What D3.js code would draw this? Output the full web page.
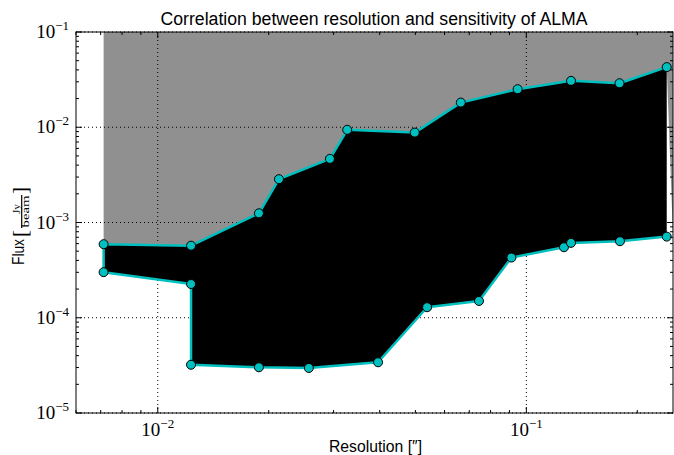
<!DOCTYPE html>
<html><head><meta charset="utf-8">
<script src="https://cdn.jsdelivr.net/npm/d3@7"></script>
<style>body{margin:0;background:#fff}svg{display:block}</style>
</head><body>
<svg id="c" width="674" height="455"></svg>
<script>
// Data
const upperX = [0.00713, 0.01231, 0.01881, 0.02132, 0.02931, 0.03266, 0.0498, 0.0664, 0.0947, 0.1322, 0.179, 0.2404];
const upperY = [5.92e-4, 5.71e-4, 1.25e-3, 2.85e-3, 4.66e-3, 9.4e-3, 8.79e-3, 0.01815, 0.0251, 0.0307, 0.0290, 0.0428];
const lowerX = [0.00713, 0.01231, 0.01231, 0.01881, 0.0257, 0.0396, 0.0538, 0.0744, 0.0911, 0.1265, 0.1322, 0.1795, 0.2404];
const lowerY = [3.01e-4, 2.26e-4, 3.21e-5, 3.02e-5, 2.97e-5, 3.41e-5, 1.29e-4, 1.50e-4, 4.28e-4, 5.50e-4, 6.11e-4, 6.36e-4, 7.11e-4];
const xDomain = [0.006, 0.25];
const yDomain = [1e-5, 1e-1];
const xTickExps = [-2, -1];
const yTickExps = [-5, -4, -3, -2, -1];

const m = {l: 76, r: 674 - 673, t: 32, b: 455 - 413};
const W = 674, H = 455;
const svg = d3.select('#c');
const x = d3.scaleLog().domain(xDomain).range([m.l, W - m.r]);
const y = d3.scaleLog().domain(yDomain).range([H - m.b, m.t]);

const upper = upperX.map((v, i) => [v, upperY[i]]);
const lower = lowerX.map((v, i) => [v, lowerY[i]]);
const line = d3.line().x(d => x(d[0])).y(d => y(d[1]));

// gray region above
const grayPts = [[upperX[0], yDomain[1]], [xDomain[1], yDomain[1]], [xDomain[1], lowerY[lowerY.length - 1]]]
  .concat(upper.slice().reverse());
svg.append('path').attr('d', line(grayPts) + 'Z').attr('fill', '#909090');

// black polygon
const blackPts = upper.concat(lower.slice().reverse());
svg.append('path').attr('d', line(blackPts) + 'Z').attr('fill', '#000');

// grid
const g = svg.append('g');
xTickExps.forEach(e => {
  g.append('line').attr('x1', x(10 ** e)).attr('x2', x(10 ** e)).attr('y1', y.range()[0]).attr('y2', y.range()[1])
    .attr('stroke', '#000').attr('stroke-width', 1).attr('stroke-dasharray', '1,3');
});
yTickExps.forEach(e => {
  g.append('line').attr('y1', y(10 ** e)).attr('y2', y(10 ** e)).attr('x1', x.range()[0]).attr('x2', x.range()[1])
    .attr('stroke', '#000').attr('stroke-width', 1).attr('stroke-dasharray', '1,3');
});

// cyan outline
const outline = upper.slice().reverse().concat(lower);
svg.append('path').attr('d', line(outline)).attr('fill', 'none').attr('stroke', '#00bfbf')
  .attr('stroke-width', 2.5).attr('stroke-linejoin', 'round');
svg.selectAll('circle.m').data(upper.concat(lower)).enter().append('circle')
  .attr('cx', d => x(d[0])).attr('cy', d => y(d[1])).attr('r', 4.5)
  .attr('fill', '#00bfbf').attr('stroke', '#000').attr('stroke-width', 1);

// frame
svg.append('rect').attr('x', m.l).attr('y', m.t).attr('width', W - m.r - m.l).attr('height', H - m.b - m.t)
  .attr('fill', 'none').attr('stroke', '#000').attr('stroke-width', 1);

// ticks (inside, all sides)
const tk = svg.append('g').attr('stroke', '#000').attr('stroke-width', 1);
const xt = x.ticks(); const yt = y.ticks();
function isMajor(v) { return Math.abs(Math.log10(v) - Math.round(Math.log10(v))) < 1e-9; }
xt.forEach(v => {
  const L = isMajor(v) ? 6 : 3; const px = x(v);
  tk.append('line').attr('x1', px).attr('x2', px).attr('y1', H - m.b).attr('y2', H - m.b - L);
  tk.append('line').attr('x1', px).attr('x2', px).attr('y1', m.t).attr('y2', m.t + L);
});
yt.forEach(v => {
  const L = isMajor(v) ? 6 : 3; const py = y(v);
  tk.append('line').attr('y1', py).attr('y2', py).attr('x1', m.l).attr('x2', m.l + L);
  tk.append('line').attr('y1', py).attr('y2', py).attr('x1', W - m.r).attr('x2', W - m.r - L);
});

// tick labels
function powLabel(sel, e) {
  sel.append('tspan').text('10');
  sel.append('tspan').attr('dy', -8).attr('font-size', 13).text('\u2212' + Math.abs(e));
}
xTickExps.forEach(e => {
  const t = svg.append('text').attr('x', x(10 ** e)).attr('y', 436).attr('text-anchor', 'middle')
    .attr('font-family', 'Liberation Serif').attr('font-size', 19);
  powLabel(t, e);
});
yTickExps.forEach(e => {
  const t = svg.append('text').attr('x', 69).attr('y', y(10 ** e) + 6).attr('text-anchor', 'end')
    .attr('font-family', 'Liberation Serif').attr('font-size', 19);
  powLabel(t, e);
});

// title
svg.append('text').attr('x', 374).attr('y', 25).attr('text-anchor', 'middle')
  .attr('font-family', 'Liberation Sans').attr('font-size', 18)
  .attr('textLength', 427).attr('lengthAdjust', 'spacingAndGlyphs')
  .text('Correlation between resolution and sensitivity of ALMA');

// x label
svg.append('text').attr('x', 329).attr('y', 451.5)
  .attr('font-family', 'Liberation Sans').attr('font-size', 16.5)
  .attr('textLength', 93).attr('lengthAdjust', 'spacingAndGlyphs')
  .text('Resolution [\u2033]');

// y label
const yl = svg.append('g').attr('transform', 'translate(24,265) rotate(-90)');
yl.append('text').attr('x', 0).attr('y', 0).attr('font-family', 'Liberation Sans').attr('font-size', 16)
  .attr('textLength', 26).attr('lengthAdjust', 'spacingAndGlyphs').text('Flux');
yl.append('text').attr('x', 28).attr('y', 3).attr('font-family', 'Liberation Serif').attr('font-size', 21).text('[');
yl.append('text').attr('x', 56).attr('y', -4.5).attr('text-anchor', 'middle').attr('font-family', 'Liberation Serif').attr('font-size', 10.5).text('Jy');
yl.append('line').attr('x1', 37).attr('x2', 70).attr('y1', -2.3).attr('y2', -2.3).attr('stroke', '#000').attr('stroke-width', 1.2);
yl.append('text').attr('x', 37.5).attr('y', 5).attr('font-family', 'Liberation Serif').attr('font-size', 9.5)
  .attr('textLength', 32).attr('lengthAdjust', 'spacingAndGlyphs').text('beam');
yl.append('text').attr('x', 71).attr('y', 3).attr('font-family', 'Liberation Serif').attr('font-size', 21).text(']');
</script>
</body></html>
